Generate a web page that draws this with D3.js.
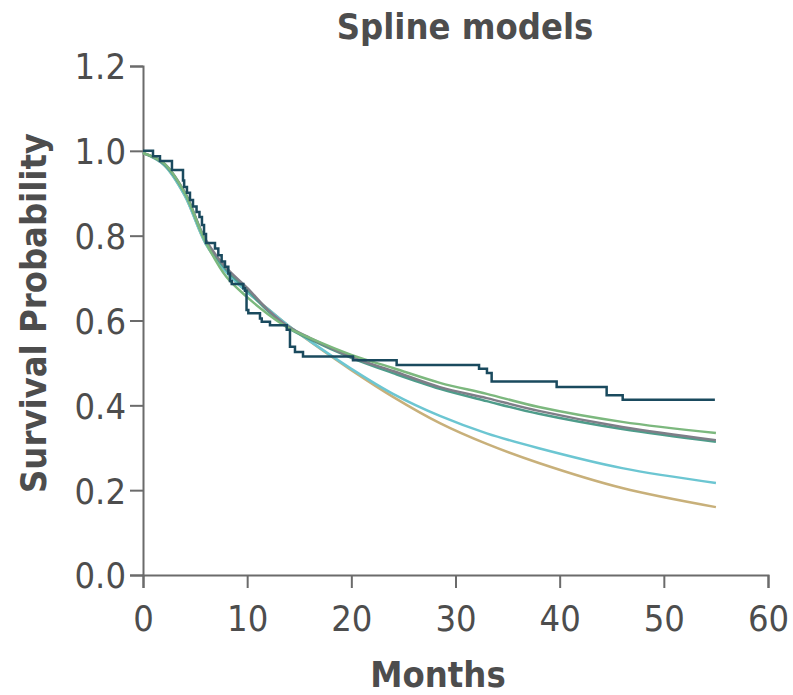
<!DOCTYPE html>
<html>
  <head>
    <style>
      body {
        margin: 0;
        background: #fff;
      }
      text {
        font-family: "DejaVu Sans Condensed", "DejaVu Sans", sans-serif;
        fill: #4d4d4d;
      }
      .title,
      .axis-title {
        font-size: 36px;
        font-weight: bold;
      }
      .tick-label {
        font-size: 36px;
      }
      .curve {
        fill: none;
        stroke-width: 2.5;
      }
    </style>
  </head>
  <body>
    <svg width="793" height="695"></svg>
    <script src="https://d3js.org/d3.v7.min.js"></script>
    <script>
      // Kaplan-Meier steps (months, survival after the drop)
      const kmTime = [0, 0.96, 1.63, 2.78, 3.84, 3.95, 4.22, 4.51, 4.8, 5.14, 5.42, 5.66, 5.86, 6.05,
        6.91, 7.23, 7.55, 7.87, 8.19, 8.35, 8.52, 9.63, 9.79, 9.94, 10.11, 11.23, 11.4, 12.19,
        13.8, 14.11, 14.59, 15.36, 20.16, 24.35, 32.26, 33.02, 33.47, 39.71, 44.51, 46.05, 54.9];
      const kmSurv = [1.0, 0.987, 0.976, 0.955, 0.93, 0.915, 0.901, 0.884, 0.869, 0.856, 0.844, 0.825, 0.804, 0.783,
        0.77, 0.754, 0.739, 0.727, 0.711, 0.693, 0.686, 0.676, 0.67, 0.625, 0.617, 0.605, 0.597, 0.589,
        0.578, 0.538, 0.526, 0.515, 0.506, 0.495, 0.486, 0.476, 0.456, 0.443, 0.424, 0.413, 0.413];

      // fitted spline models
      const splineTime = [0, 2, 4, 6, 8, 10, 12, 14, 16, 20, 24, 28.5, 33, 38, 46, 55];
      const tanSurv = [0.995, 0.967, 0.895, 0.782, 0.714, 0.667, 0.627, 0.587, 0.551, 0.483, 0.42, 0.358, 0.309, 0.264, 0.205, 0.16];
      const cyanSurv = [0.995, 0.967, 0.895, 0.782, 0.714, 0.667, 0.627, 0.587, 0.552, 0.486, 0.427, 0.375, 0.334, 0.299, 0.252, 0.217];
      const tealSurv = [0.995, 0.969, 0.901, 0.788, 0.719, 0.672, 0.622, 0.582, 0.556, 0.512, 0.476, 0.439, 0.41, 0.38, 0.344, 0.314];
      const graySurv = [0.995, 0.971, 0.903, 0.791, 0.724, 0.677, 0.625, 0.585, 0.559, 0.514, 0.481, 0.443, 0.417, 0.387, 0.349, 0.318];
      const greenSurv = [0.995, 0.971, 0.901, 0.786, 0.703, 0.655, 0.615, 0.582, 0.559, 0.519, 0.488, 0.453, 0.427, 0.396, 0.361, 0.335];

      const xTicks = [0, 10, 20, 30, 40, 50, 60];
      const yTicks = [0, 0.2, 0.4, 0.6, 0.8, 1.0, 1.2];

      const svg = d3.select("svg");
      const axisColor = "#6b6b6b";

      const x = d3.scaleLinear().domain([0, 60]).range([143, 768]);
      const y = d3.scaleLinear().domain([0, 1.2]).range([575, 66]);

      // X axis
      const xAxis = svg
        .append("g")
        .attr("transform", `translate(0,${y(0)})`)
        .call(d3.axisBottom(x).tickValues(xTicks).tickSize(13).tickSizeOuter(13).tickFormat(d3.format("d")));
      xAxis.select(".domain").attr("stroke", axisColor).attr("stroke-width", 2);
      xAxis.selectAll(".tick line").attr("stroke", axisColor).attr("stroke-width", 2);
      xAxis
        .selectAll(".tick text")
        .attr("class", "tick-label")
        .attr("y", 56)
        .attr("dy", 0)
        .attr("font-family", null)
        .attr("font-size", null)
        .attr("fill", null);

      // Y axis
      const yAxis = svg
        .append("g")
        .attr("transform", `translate(${x(0)},0)`)
        .call(d3.axisLeft(y).tickValues(yTicks).tickSize(13).tickSizeOuter(13).tickFormat(d3.format(".1f")));
      yAxis.select(".domain").attr("stroke", axisColor).attr("stroke-width", 2);
      yAxis.selectAll(".tick line").attr("stroke", axisColor).attr("stroke-width", 2);
      yAxis
        .selectAll(".tick text")
        .attr("class", "tick-label")
        .attr("x", -17)
        .attr("dy", "0.36em")
        .attr("font-family", null)
        .attr("font-size", null)
        .attr("fill", null);

      // fitted curves
      const series = [
        { surv: tanSurv, color: "#c8b07a", width: 2.5 },
        { surv: cyanSurv, color: "#6cc6d2", width: 2.5 },
        { surv: tealSurv, color: "#4e9c8a", width: 2.5 },
        { surv: graySurv, color: "#7f7e88", width: 3.5 },
        { surv: greenSurv, color: "#7cb87e", width: 2.5 },
      ];

      const smooth = d3
        .line()
        .x((d) => x(d[0]))
        .y((d) => y(d[1]))
        .curve(d3.curveCatmullRom.alpha(0.5));

      series.forEach((s) => {
        svg
          .append("path")
          .attr("class", "curve")
          .attr("stroke", s.color)
          .attr("stroke-width", s.width)
          .attr("d", smooth(splineTime.map((t, i) => [t, s.surv[i]])));
      });

      // Kaplan-Meier
      const km = d3
        .line()
        .x((d) => x(d[0]))
        .y((d) => y(d[1]))
        .curve(d3.curveStepAfter);

      svg
        .append("path")
        .attr("class", "curve")
        .attr("stroke", "#1a4a5e")
        .attr("stroke-width", 2.5)
        .attr("d", km(kmTime.map((t, i) => [t, kmSurv[i]])));

      // titles
      svg
        .append("text")
        .attr("class", "title")
        .attr("x", 465)
        .attr("y", 39)
        .attr("text-anchor", "middle")
        .text("Spline models");

      svg
        .append("text")
        .attr("class", "axis-title")
        .attr("x", 438)
        .attr("y", 687)
        .attr("text-anchor", "middle")
        .text("Months");

      svg
        .append("text")
        .attr("class", "axis-title")
        .attr("transform", "translate(46,313) rotate(-90)")
        .attr("text-anchor", "middle")
        .text("Survival Probability");
    </script>
  </body>
</html>
